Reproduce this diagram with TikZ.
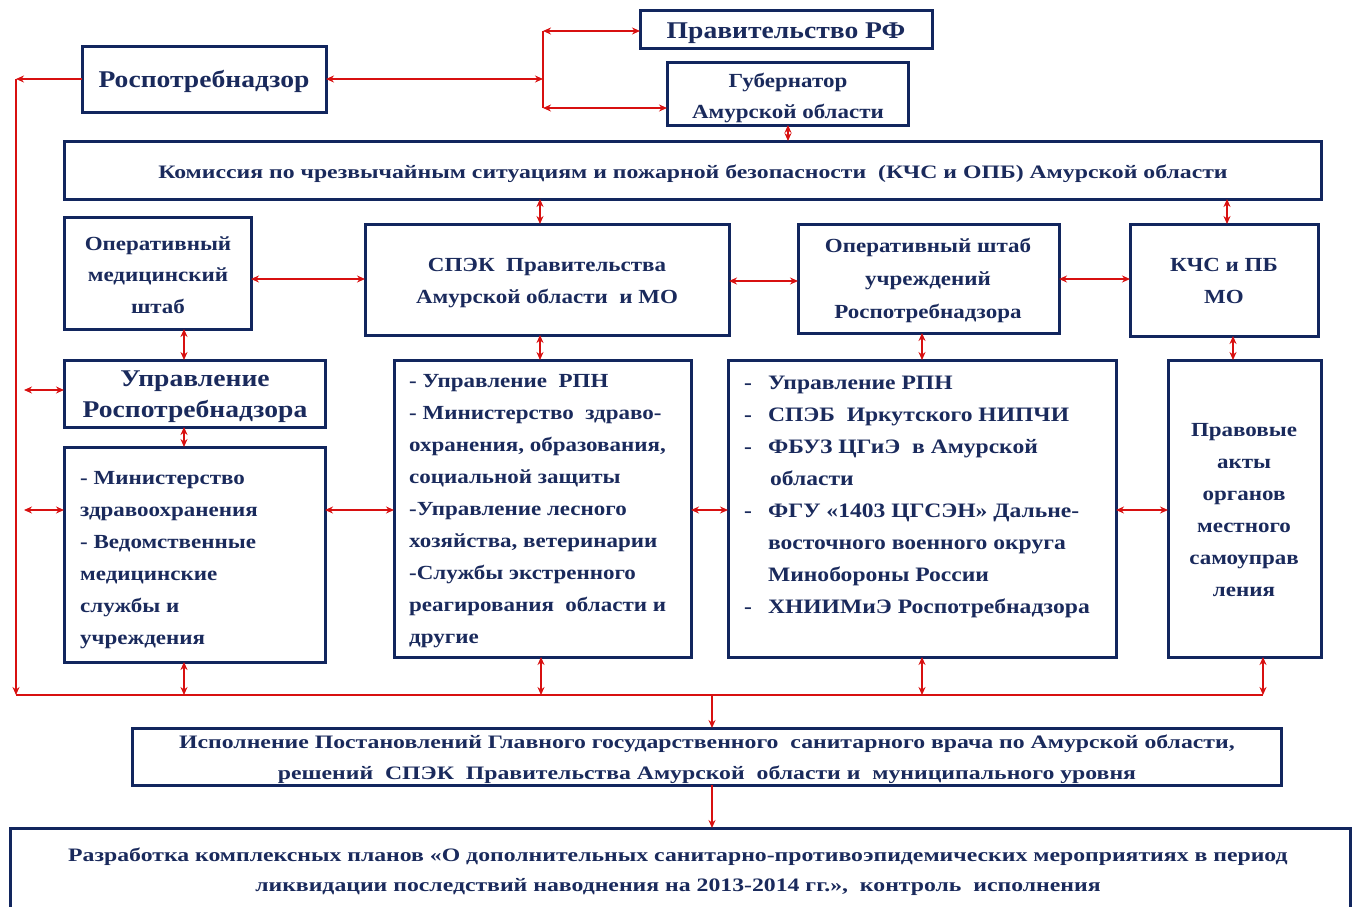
\documentclass[tikz,border=0pt]{standalone}
\usepackage{fontspec}
\setmainfont{Liberation Serif}
\newfontfamily\wide{Liberation Serif}[FakeStretch=1.15]
\newfontfamily\wider{Liberation Serif}[FakeStretch=1.25]
\usetikzlibrary{arrows.meta}
\definecolor{navy}{HTML}{12265E}
\definecolor{txt}{HTML}{1A2A5C}
\definecolor{arr}{HTML}{D81010}
\tikzset{
  box/.style={draw=navy, line width=3pt, anchor=north west, inner sep=0pt, outer sep=0pt},
  lbl/.style={text=txt, inner sep=0pt, align=center, font=\wide\bfseries\fontsize{20}{31.5}\selectfont},
  lst/.style={text=txt, inner sep=0pt, align=left, anchor=north west, font=\wide\bfseries\fontsize{20}{32}\selectfont},
  dbl/.style={draw=arr, line width=1.6pt, {Stealth[length=8pt,width=7pt]}-{Stealth[length=8pt,width=7pt]}},
  one/.style={draw=arr, line width=1.6pt, -{Stealth[length=8pt,width=7pt]}},
  ln/.style={draw=arr, line width=1.6pt},
}
\begin{document}
\begin{tikzpicture}[x=1pt,y=-1pt]
\useasboundingbox (0,0) rectangle (1352,906);
% boxes
\node[box, minimum width=292pt, minimum height=38pt] (prav) at (640,10) {};
\node[box, minimum width=241pt, minimum height=63pt] (gub) at (667,62) {};
\node[box, minimum width=244pt, minimum height=66pt] (rpn) at (82,46) {};
\node[box, minimum width=1257pt, minimum height=58pt] (kchs) at (64,141) {};
\node[box, minimum width=187pt, minimum height=112pt] (omed) at (64,217) {};
\node[box, minimum width=364pt, minimum height=111pt] (spek) at (365,224) {};
\node[box, minimum width=261pt, minimum height=109pt] (oshtab) at (798,224) {};
\node[box, minimum width=188pt, minimum height=112pt] (kchsmo) at (1130,224) {};
\node[box, minimum width=261pt, minimum height=67pt] (upr) at (64,360) {};
\node[box, minimum width=261pt, minimum height=215pt] (minz) at (64,447) {};
\node[box, minimum width=297pt, minimum height=297pt] (mid) at (394,360) {};
\node[box, minimum width=388pt, minimum height=297pt] (rgt) at (728,360) {};
\node[box, minimum width=153pt, minimum height=297pt] (prava) at (1168,360) {};
\node[box, minimum width=1149pt, minimum height=57pt] (isp) at (132,728) {};
\node[box, minimum width=1340pt, minimum height=100pt] (razr) at (10,828) {};
% texts
\node[lbl, font=\wide\bfseries\fontsize{24}{30}\selectfont] (t-prav) at (786,33) {Правительство РФ};
\node[lbl, font=\wide\bfseries\fontsize{20}{31}\selectfont] (t-gub) at (788,98) {Губернатор\\Амурской области};
\node[lbl, font=\wide\bfseries\fontsize{24}{30}\selectfont] (t-rpn) at (204,81) {Роспотребнадзор};
\node[lbl, font=\wider\bfseries\fontsize{19}{30}\selectfont] (t-kchs) at (693,174) {Комиссия по чрезвычайным ситуациям и пожарной безопасности \ (КЧС и ОПБ) Амурской области};
\node[lbl] (t-omed) at (158,275) {Оперативный\\медицинский\\штаб};
\node[lbl] (t-spek) at (547,283) {СПЭК \ Правительства\\Амурской области \ и МО};
\node[lbl, font=\wide\bfseries\fontsize{20}{33}\selectfont] (t-oshtab) at (928,280) {Оперативный штаб\\учреждений\\Роспотребнадзора};
\node[lbl] (t-kchsmo) at (1224,281) {КЧС и ПБ\\МО};
\node[lbl, font=\wide\bfseries\fontsize{24}{31}\selectfont] (t-upr) at (195,397) {Управление\\Роспотребнадзора};
\node[lst] (t-minz) at (80,471) {- Министерство\\здравоохранения\\- Ведомственные\\медицинские\\службы и\\учреждения};
\node[lst] (t-mid) at (409,374) {- Управление \ РПН\\- Министерство \ здраво-\\охранения, образования,\\социальной защиты\\-Управление лесного\\хозяйства, ветеринарии\\-Службы экстренного\\реагирования \ области и\\другие};
\node[lst, font=\wide\bfseries\fontsize{20.5}{32}\selectfont] (t-rgt) at (744,367) {\begin{tabular}{@{}l@{\hspace{16pt}}l@{}}
-& Управление РПН\\
-& СПЭБ \ Иркутского НИПЧИ\\
-& ФБУЗ ЦГиЭ \ в Амурской\\
 & \hspace{2pt}области\\
-& ФГУ «1403 ЦГСЭН» Дальне-\\
 & восточного военного округа\\
 & Минобороны России\\
-& ХНИИМиЭ Роспотребнадзора
\end{tabular}};
\node[lbl, font=\wide\bfseries\fontsize{20}{32}\selectfont] (t-prava) at (1244,510) {Правовые\\акты\\органов\\местного\\самоуправ\\ления};
\node[lbl, font=\wider\bfseries\fontsize{19}{31}\selectfont] (t-isp) at (707,759) {Исполнение Постановлений Главного государственного \ санитарного врача по Амурской области,\\решений \ СПЭК \ Правительства Амурской \ области и \ муниципального уровня};
\node[lbl, font=\wider\bfseries\fontsize{19}{30}\selectfont] (t-razr) at (678,872) {Разработка комплексных планов «О дополнительных санитарно-противоэпидемических мероприятиях в период\\ликвидации последствий наводнения на 2013-2014 гг.», \ контроль \ исполнения};
% junction and guide coordinates
\coordinate (jx) at (543,79);
\coordinate (jt) at (543,31);
\coordinate (jb) at (543,108);
\coordinate (lc) at (16,79);
\coordinate (lb) at (16,695);
\coordinate (rb) at (1263,695);
\coordinate (b1) at (184,695);
\coordinate (b2) at (541,695);
\coordinate (b3) at (922,695);
\coordinate (bm) at (712,695);
\coordinate (l1) at (24,390);
\coordinate (l2) at (24,510);
\coordinate (x788) at (788,0);
\coordinate (x540) at (540,0);
\coordinate (x1227) at (1227,0);
\coordinate (x1233) at (1233,0);
\coordinate (y279) at (0,279);
\coordinate (y281) at (0,281);
% connectors
\draw[dbl] (rpn.east) -- (jx);
\draw[ln] (jt) -- (jb);
\draw[dbl] (jt) -- (prav.west |- jt);
\draw[dbl] (jb) -- (gub.west |- jb);
\draw[one] (rpn.west) -- (lc);
\draw[one] (lc) -- (lb);
\draw[ln] (lb) -- (rb);
\draw[dbl] (gub.south -| x788) -- (kchs.north -| x788);
\draw[dbl] (kchs.south -| x540) -- (spek.north -| x540);
\draw[dbl] (kchs.south -| x1227) -- (kchsmo.north -| x1227);
\draw[dbl] (omed.east |- y279) -- (spek.west |- y279);
\draw[dbl] (spek.east |- y281) -- (oshtab.west |- y281);
\draw[dbl] (oshtab.east |- y279) -- (kchsmo.west |- y279);
\draw[dbl] (omed.south -| b1) -- (upr.north -| b1);
\draw[dbl] (upr.south -| b1) -- (minz.north -| b1);
\draw[dbl] (spek.south -| x540) -- (mid.north -| x540);
\draw[dbl] (oshtab.south -| b3) -- (rgt.north -| b3);
\draw[dbl] (kchsmo.south -| x1233) -- (prava.north -| x1233);
\draw[dbl] (l1) -- (upr.west |- l1);
\draw[dbl] (l2) -- (minz.west |- l2);
\draw[dbl] (minz.east |- l2) -- (mid.west |- l2);
\draw[dbl] (mid.east |- l2) -- (rgt.west |- l2);
\draw[dbl] (rgt.east |- l2) -- (prava.west |- l2);
\draw[dbl] (minz.south -| b1) -- (b1);
\draw[dbl] (mid.south -| b2) -- (b2);
\draw[dbl] (rgt.south -| b3) -- (b3);
\draw[dbl] (prava.south -| rb) -- (rb);
\draw[one] (bm) -- (isp.north -| bm);
\draw[one] (isp.south -| bm) -- (razr.north -| bm);
\end{tikzpicture}
\end{document}
